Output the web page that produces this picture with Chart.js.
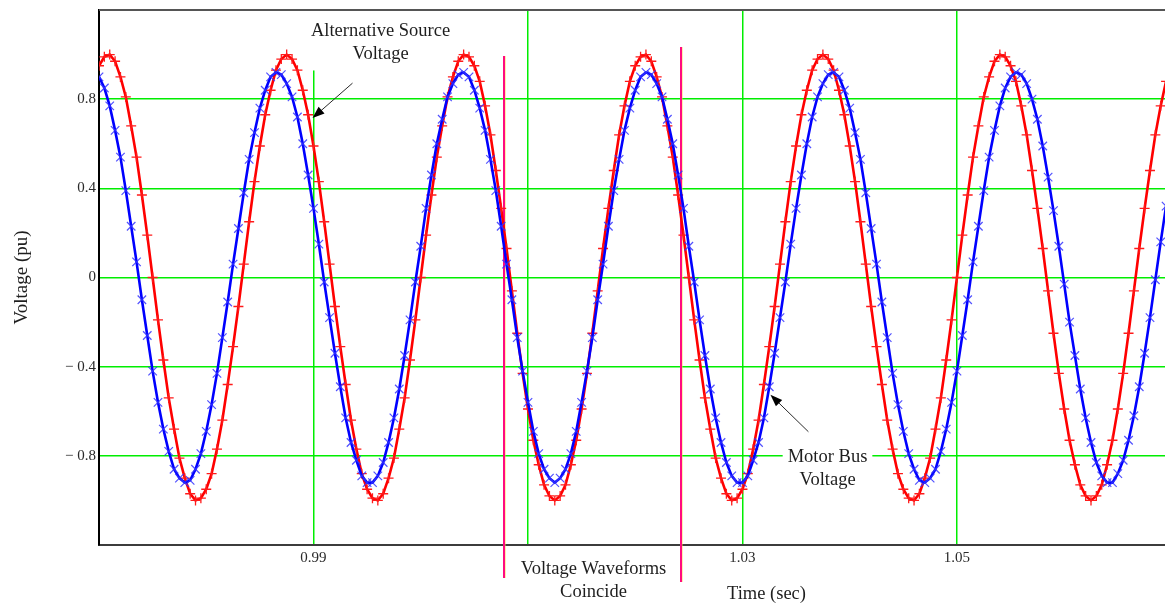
<!DOCTYPE html>
<html>
<head>
<meta charset="utf-8">
<title>Voltage waveforms during transfer</title>
<script src="https://cdn.jsdelivr.net/npm/chart.js@4.4.1/dist/chart.umd.min.js"></script>
<style>
  html, body { margin: 0; padding: 0; background: #fff; overflow: hidden; }
  canvas { display: block; }
</style>
</head>
<body>
<canvas id="wave" width="1165" height="606"></canvas>
<script>
// Sampling of both traces (seconds)
const startTime = 0.97;
const sampleStep = 0.0005;

// Alternative source voltage (pu), one value per sample
const sourceVoltage = [
  0.95, 0.99, 1.00, 0.97, 0.90, 0.81, 0.68, 0.54, 0.37, 0.19,
  0.00, -0.19, -0.37, -0.54, -0.68, -0.81, -0.90, -0.97, -1.00, -0.99,
  -0.95, -0.88, -0.77, -0.64, -0.48, -0.31, -0.13, 0.06, 0.25, 0.43,
  0.59, 0.73, 0.84, 0.93, 0.98, 1.00, 0.98, 0.93, 0.84, 0.73,
  0.59, 0.43, 0.25, 0.06, -0.13, -0.31, -0.48, -0.64, -0.77, -0.88,
  -0.95, -0.99, -1.00, -0.97, -0.90, -0.81, -0.68, -0.54, -0.37, -0.19,
  0.00, 0.19, 0.37, 0.54, 0.68, 0.81, 0.90, 0.97, 1.00, 0.99,
  0.95, 0.88, 0.77, 0.64, 0.48, 0.31, 0.13, -0.06, -0.25, -0.43,
  -0.59, -0.73, -0.84, -0.93, -0.98, -1.00, -0.98, -0.93, -0.84, -0.73,
  -0.59, -0.43, -0.25, -0.06, 0.13, 0.31, 0.48, 0.64, 0.77, 0.88,
  0.95, 0.99, 1.00, 0.97, 0.90, 0.81, 0.68, 0.54, 0.37, 0.19,
  0.00, -0.19, -0.37, -0.54, -0.68, -0.81, -0.90, -0.97, -1.00, -0.99,
  -0.95, -0.88, -0.77, -0.64, -0.48, -0.31, -0.13, 0.06, 0.25, 0.43,
  0.59, 0.73, 0.84, 0.93, 0.98, 1.00, 0.98, 0.93, 0.84, 0.73,
  0.59, 0.43, 0.25, 0.06, -0.13, -0.31, -0.48, -0.64, -0.77, -0.88,
  -0.95, -0.99, -1.00, -0.97, -0.90, -0.81, -0.68, -0.54, -0.37, -0.19,
  0.00, 0.19, 0.37, 0.54, 0.68, 0.81, 0.90, 0.97, 1.00, 0.99,
  0.95, 0.88, 0.77, 0.64, 0.48, 0.31, 0.13, -0.06, -0.25, -0.43,
  -0.59, -0.73, -0.84, -0.93, -0.98, -1.00, -0.98, -0.93, -0.84, -0.73,
  -0.59, -0.43, -0.25, -0.06, 0.13, 0.31, 0.48, 0.64, 0.77, 0.88
];

// Motor bus voltage (pu), same sample instants
const motorBusVoltage = [
  0.90, 0.85, 0.77, 0.66, 0.54, 0.39, 0.23, 0.07, -0.10, -0.26,
  -0.42, -0.56, -0.68, -0.78, -0.86, -0.90, -0.92, -0.91, -0.86, -0.79,
  -0.69, -0.57, -0.43, -0.27, -0.11, 0.06, 0.22, 0.38, 0.53, 0.65,
  0.76, 0.84, 0.90, 0.92, 0.91, 0.87, 0.81, 0.72, 0.60, 0.46,
  0.31, 0.15, -0.02, -0.18, -0.34, -0.49, -0.63, -0.74, -0.82, -0.89,
  -0.92, -0.92, -0.89, -0.83, -0.74, -0.63, -0.50, -0.35, -0.19, -0.02,
  0.14, 0.31, 0.46, 0.60, 0.71, 0.81, 0.87, 0.91, 0.92, 0.90,
  0.84, 0.76, 0.66, 0.53, 0.39, 0.23, 0.06, -0.10, -0.27, -0.42,
  -0.56, -0.69, -0.79, -0.86, -0.90, -0.92, -0.90, -0.86, -0.79, -0.69,
  -0.56, -0.42, -0.27, -0.10, 0.06, 0.23, 0.39, 0.53, 0.66, 0.76,
  0.84, 0.90, 0.92, 0.91, 0.87, 0.81, 0.71, 0.60, 0.46, 0.31,
  0.14, -0.02, -0.19, -0.35, -0.50, -0.63, -0.74, -0.83, -0.89, -0.92,
  -0.92, -0.89, -0.82, -0.74, -0.63, -0.49, -0.34, -0.18, -0.02, 0.15,
  0.31, 0.46, 0.60, 0.72, 0.81, 0.87, 0.91, 0.92, 0.90, 0.84,
  0.76, 0.65, 0.53, 0.38, 0.22, 0.06, -0.11, -0.27, -0.43, -0.57,
  -0.69, -0.79, -0.86, -0.91, -0.92, -0.90, -0.86, -0.78, -0.68, -0.56,
  -0.42, -0.26, -0.10, 0.07, 0.23, 0.39, 0.54, 0.66, 0.77, 0.85,
  0.90, 0.92, 0.91, 0.87, 0.80, 0.71, 0.59, 0.45, 0.30, 0.14,
  -0.03, -0.20, -0.35, -0.50, -0.63, -0.74, -0.83, -0.89, -0.92, -0.92,
  -0.88, -0.82, -0.73, -0.62, -0.49, -0.34, -0.18, -0.01, 0.16, 0.32
];

// Axis ticks and ranges
const timeTicks = [0.99, 1.01, 1.03, 1.05];
const voltageTicks = [-0.8, -0.4, 0, 0.4, 0.8];
const timeRange = [0.97, 1.0694];
const voltageRange = [-1.2, 1.2];

// Instants bounding the interval where the waveforms coincide
const coincideStart = 1.0078;
const coincideEnd = 1.0243;

const SERIF = '"Liberation Serif", "Times New Roman", serif';
const TEXT_COLOR = '#1e1e1e';
const LABEL_SIZE = 18.5;

function toPoints(values) {
  return values.map((v, i) => ({ x: startTime + i * sampleStep, y: v }));
}

// Callout labels, anchored in data coordinates (time, voltage)
const callouts = [
  { lines: ['Alternative Source', 'Voltage'], t: 0.99625, v: 1.106, padTop: 22, padBottom: 16,
    arrow: { from: [0.99364, 0.872], to: [0.98991, 0.715] } },
  { lines: ['Motor Bus', 'Voltage'], t: 1.03793, v: -0.804, padTop: 13, padBottom: 12,
    arrow: { from: [1.03615, -0.692], to: [1.03261, -0.526] } },
  { lines: ['Voltage Waveforms', 'Coincide'], t: 1.01611, v: -1.308, padTop: 21, padBottom: 12 }
];
const LINE_GAP = 23.5;

function labelFont(ctx) {
  ctx.font = LABEL_SIZE + 'px ' + SERIF;
}

function drawArrow(ctx, x1, y1, x2, y2) {
  const ang = Math.atan2(y2 - y1, x2 - x1);
  const head = 12, half = 4.5;
  ctx.save();
  ctx.strokeStyle = '#2a2a2a';
  ctx.lineWidth = 1;
  ctx.beginPath();
  ctx.moveTo(x1, y1);
  ctx.lineTo(x2 - Math.cos(ang) * head * 0.8, y2 - Math.sin(ang) * head * 0.8);
  ctx.stroke();
  ctx.fillStyle = '#000';
  ctx.beginPath();
  ctx.moveTo(x2, y2);
  ctx.lineTo(x2 - Math.cos(ang) * head + Math.sin(ang) * half,
             y2 - Math.sin(ang) * head - Math.cos(ang) * half);
  ctx.lineTo(x2 - Math.cos(ang) * head - Math.sin(ang) * half,
             y2 - Math.sin(ang) * head + Math.cos(ang) * half);
  ctx.closePath();
  ctx.fill();
  ctx.restore();
}

const overlay = {
  id: 'overlay',
  beforeDatasetsDraw(chart) {
    const { ctx, chartArea, scales: { x, y } } = chart;
    ctx.save();

    // white backing behind callout text
    labelFont(ctx);
    ctx.fillStyle = '#fff';
    callouts.forEach(c => {
      const cx = x.getPixelForValue(c.t);
      const cy = y.getPixelForValue(c.v);
      const w = Math.max(...c.lines.map(s => ctx.measureText(s).width));
      const top = cy - c.padTop;
      const bottom = cy + LINE_GAP * (c.lines.length - 1) + c.padBottom;
      ctx.fillRect(cx - w / 2 - 5, top, w + 10, bottom - top);
    });

    // top frame line
    ctx.fillStyle = '#555';
    ctx.fillRect(chartArea.left, chartArea.top - 1, chartArea.right - chartArea.left, 2);

    // markers bounding the coincidence interval
    const marks = [
      { t: coincideStart, top: 0.993, bottom: -1.348 },
      { t: coincideEnd, top: 1.034, bottom: -1.366 }
    ];
    marks.forEach(m => {
      const px = Math.round(x.getPixelForValue(m.t));
      const y1 = Math.round(y.getPixelForValue(m.top));
      const y2 = Math.round(y.getPixelForValue(m.bottom));
      ctx.fillStyle = 'rgba(255, 215, 70, 0.45)';
      ctx.fillRect(px + 1, y1, 1, y2 - y1);
      ctx.fillStyle = '#ff0a80';
      ctx.fillRect(px - 1, y1, 2, y2 - y1);
    });
    ctx.restore();
  },
  afterDatasetsDraw(chart) {
    const { ctx, scales: { x, y } } = chart;
    ctx.save();
    labelFont(ctx);
    ctx.fillStyle = TEXT_COLOR;
    ctx.textAlign = 'center';
    ctx.textBaseline = 'middle';
    callouts.forEach(c => {
      const cx = x.getPixelForValue(c.t);
      const cy = y.getPixelForValue(c.v);
      c.lines.forEach((s, i) => ctx.fillText(s, cx, cy + i * LINE_GAP));
      if (c.arrow) {
        drawArrow(ctx,
          x.getPixelForValue(c.arrow.from[0]), y.getPixelForValue(c.arrow.from[1]),
          x.getPixelForValue(c.arrow.to[0]), y.getPixelForValue(c.arrow.to[1]));
      }
    });
    // time axis title
    ctx.fillText('Time (sec)', x.getPixelForValue(1.03224), 594);
    ctx.restore();
  }
};

new Chart(document.getElementById('wave'), {
  type: 'line',
  data: {
    datasets: [
      {
        label: 'Motor Bus Voltage',
        data: toPoints(motorBusVoltage),
        borderColor: '#0000ff',
        borderWidth: 2.6,
        pointStyle: 'crossRot',
        pointRadius: 6,
        pointBorderColor: 'rgba(50, 50, 255, 0.85)',
        pointBorderWidth: 1.2,
        pointBackgroundColor: 'transparent',
        tension: 0,
        fill: false,
        order: 1
      },
      {
        label: 'Alternative Source Voltage',
        data: toPoints(sourceVoltage),
        borderColor: '#ff0000',
        borderWidth: 2.6,
        pointStyle: 'cross',
        pointRadius: 5,
        pointBorderColor: '#ff1a1a',
        pointBorderWidth: 1.3,
        pointBackgroundColor: 'transparent',
        tension: 0,
        fill: false,
        order: 2
      }
    ]
  },
  options: {
    responsive: false,
    animation: false,
    devicePixelRatio: 1,
    layout: { autoPadding: false, padding: { top: 10, right: 0, bottom: 0, left: 0 } },
    plugins: {
      legend: { display: false },
      tooltip: { enabled: false }
    },
    scales: {
      x: {
        type: 'linear',
        min: timeRange[0],
        max: timeRange[1],
        afterBuildTicks: s => { s.ticks = timeTicks.map(v => ({ value: v })); },
        afterFit: s => { s.height = 61; s.paddingLeft = 0; s.paddingRight = 0; },
        grid: { color: '#00ee00', lineWidth: 1.5, drawTicks: false },
        border: { color: '#3c3c3c', width: 2 },
        ticks: {
          padding: 4,
          autoSkip: false,
          maxRotation: 0,
          color: '#2a2a2a',
          font: { family: SERIF, size: 15 },
          callback: v => Number(v).toFixed(2)
        }
      },
      y: {
        type: 'linear',
        min: voltageRange[0],
        max: voltageRange[1],
        afterBuildTicks: s => { s.ticks = voltageTicks.map(v => ({ value: v })); },
        afterFit: s => { s.width = 99; s.paddingTop = 0; s.paddingBottom = 0; },
        grid: { color: '#00ee00', lineWidth: 1.5, drawTicks: false },
        border: { color: '#000', width: 2 },
        ticks: {
          padding: 3,
          autoSkip: false,
          color: '#2a2a2a',
          font: { family: SERIF, size: 15 },
          callback: v => (v < 0 ? '\u2212 ' + Math.abs(v) : String(Math.abs(v)))
        },
        title: {
          display: true,
          text: 'Voltage (pu)',
          color: TEXT_COLOR,
          font: { family: SERIF, size: 19 },
          padding: { top: 11, bottom: 0 }
        }
      }
    }
  },
  plugins: [overlay]
});
</script>
</body>
</html>
